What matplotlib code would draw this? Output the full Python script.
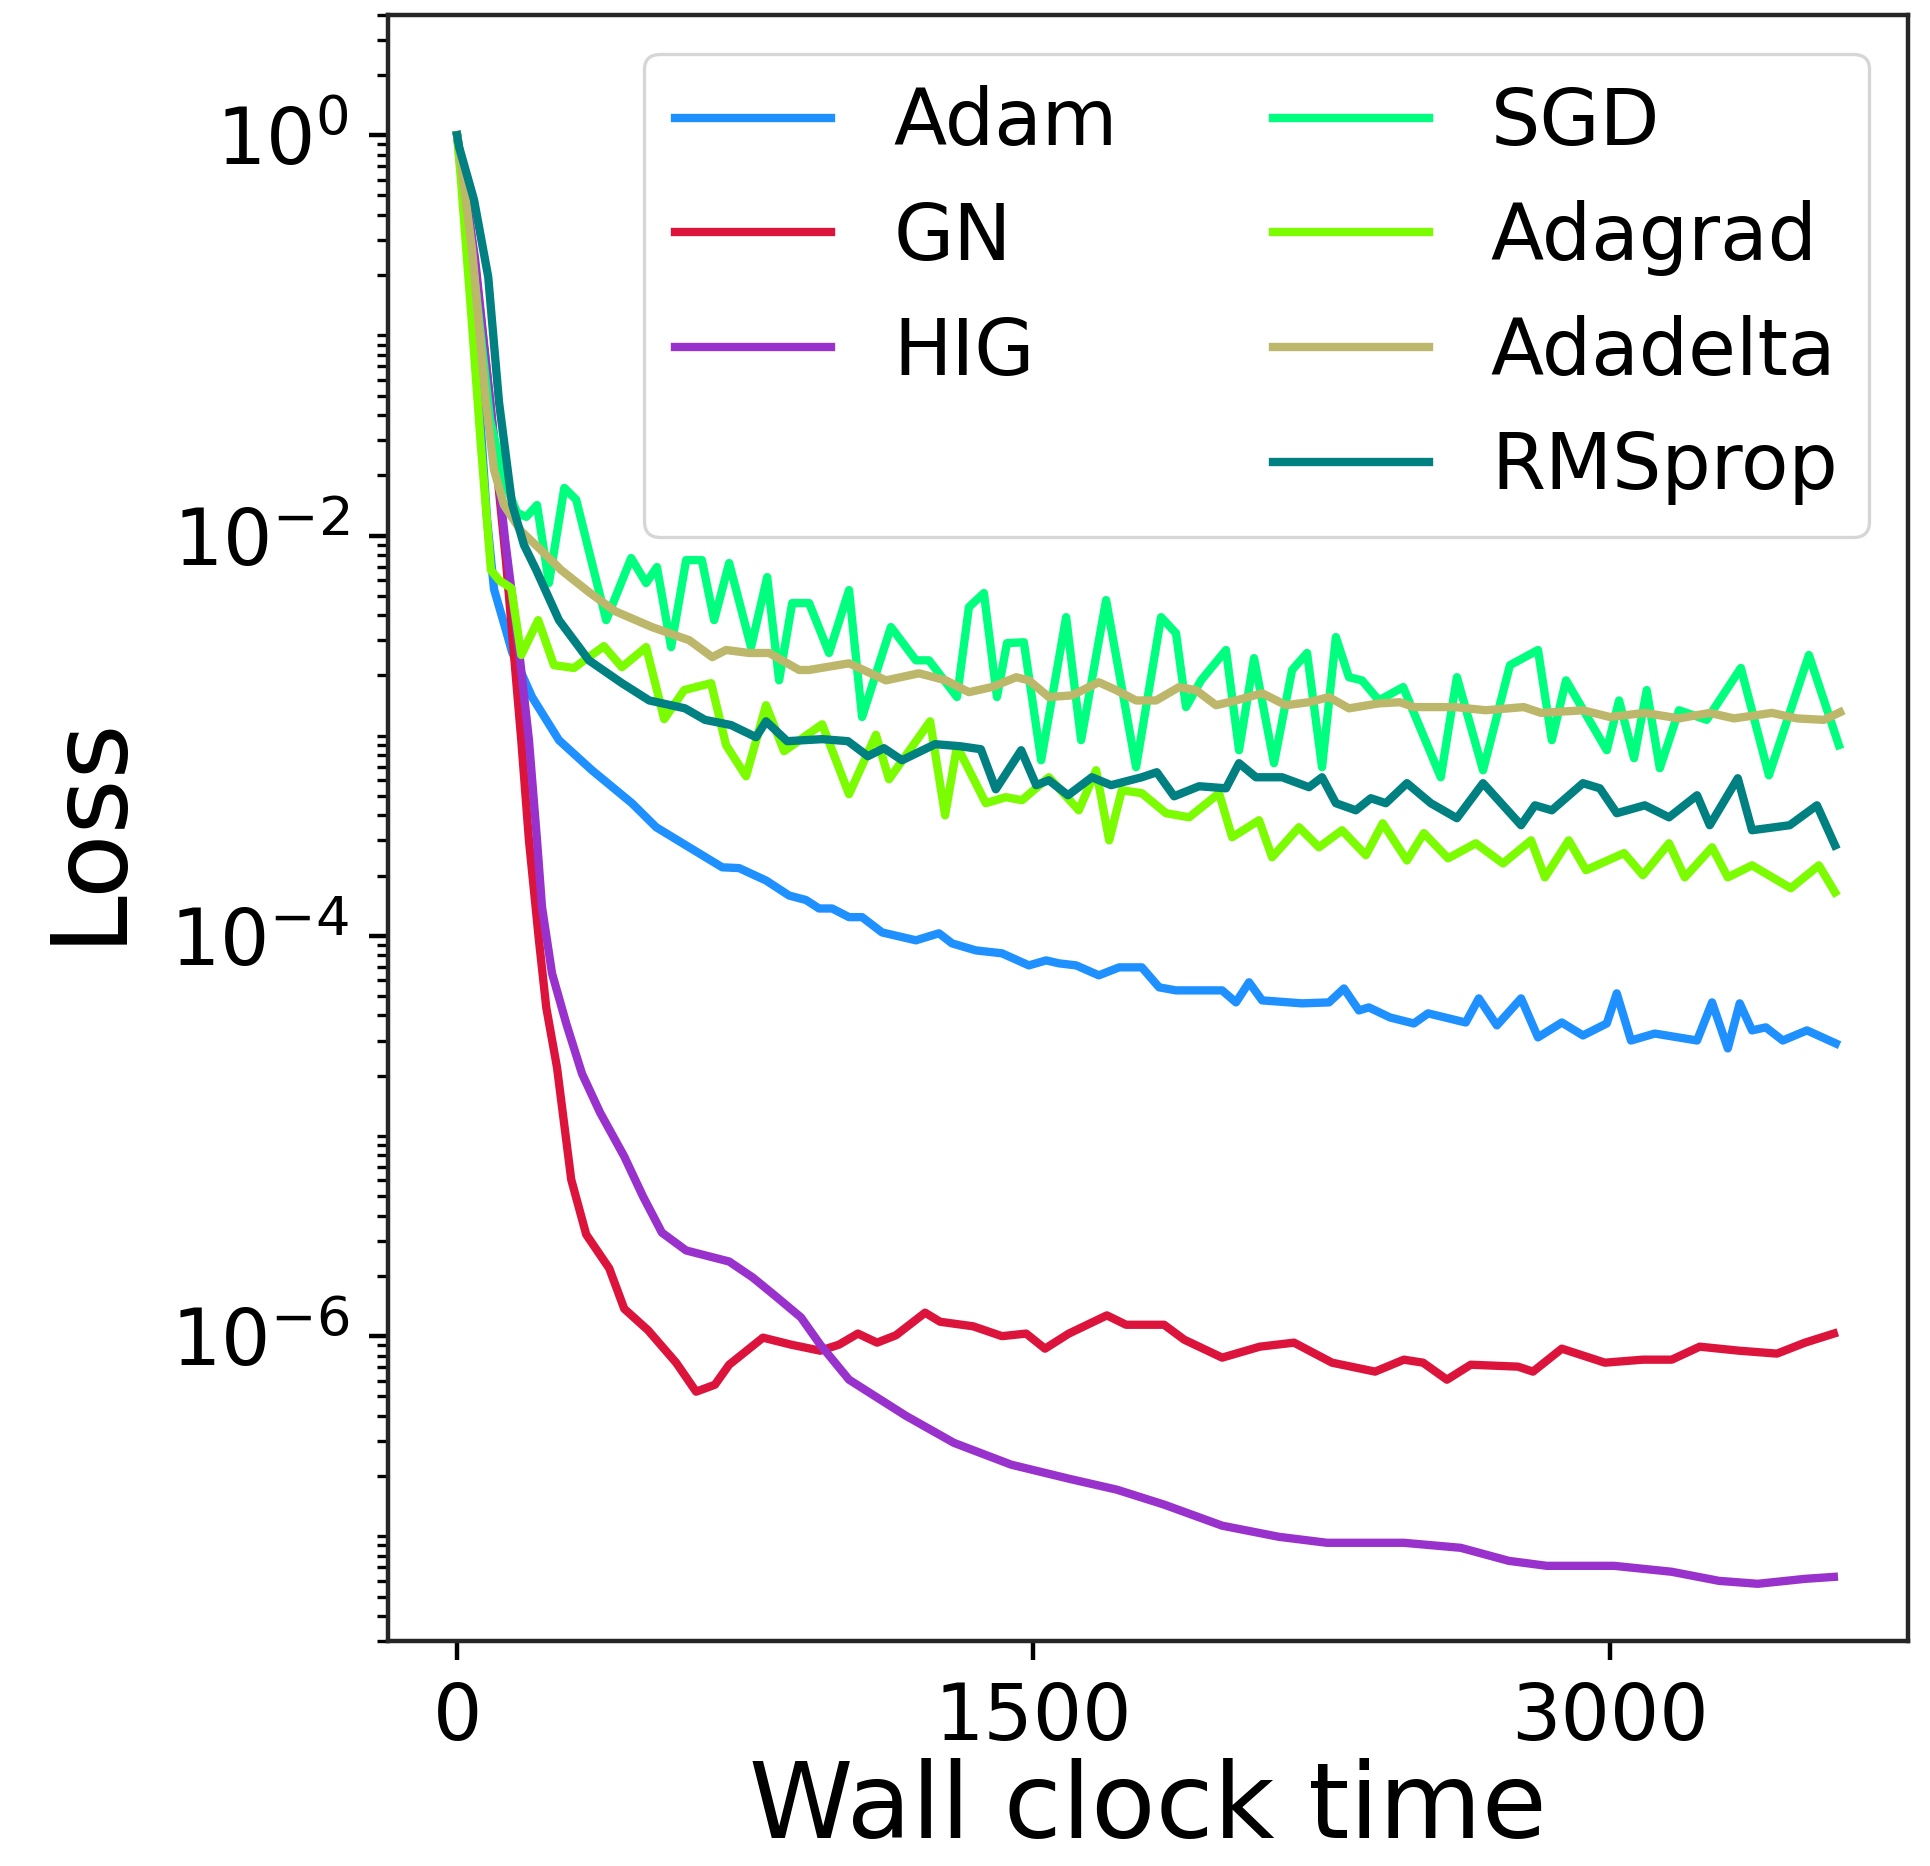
import numpy as np
import matplotlib
matplotlib.use("Agg")
import matplotlib.pyplot as plt
from matplotlib.ticker import LogLocator, NullFormatter


#%% loss curves vs wall clock time

t_adam = [0, 31, 57, 78, 96, 127, 143, 195, 265, 351, 455, 518, 604, 690, 734, 804, 864, 908, 942, 976,
          1020, 1054, 1106, 1194, 1254, 1288, 1350, 1418, 1488, 1533, 1566, 1611, 1670, 1723, 1782, 1827,
          1871, 1991, 2027, 2061, 2095, 2199, 2269, 2308, 2347, 2373, 2428, 2490, 2527, 2625, 2659, 2706,
          2769, 2813, 2875, 2930, 2992, 3018, 3055, 3117, 3227, 3266, 3307, 3338, 3370, 3406, 3450, 3513, 3588]
loss_adam = [1.0, 0.268, 0.0476, 0.012, 0.0054, 0.00337, 0.00262, 0.00156, 0.00095, 0.000672, 0.00046,
             0.000349, 0.000277, 0.00022, 0.000218, 0.000189, 0.000159, 0.000151, 0.000137, 0.000137,
             0.000124, 0.000124, 0.000104, 9.5e-5, 1.03e-4, 9.17e-5, 8.46e-5, 8.18e-5, 7.12e-5, 7.54e-5,
             7.29e-5, 7.12e-5, 6.35e-5, 6.96e-5, 6.96e-5, 5.53e-5, 5.34e-5, 5.34e-5, 4.65e-5, 5.86e-5,
             4.76e-5, 4.6e-5, 4.65e-5, 5.46e-5, 4.24e-5, 4.39e-5, 3.91e-5, 3.65e-5, 4.1e-5, 3.69e-5,
             4.87e-5, 3.57e-5, 4.87e-5, 3.11e-5, 3.69e-5, 3.18e-5, 3.65e-5, 5.16e-5, 3.0e-5, 3.25e-5,
             3.0e-5, 4.65e-5, 2.74e-5, 4.6e-5, 3.37e-5, 3.49e-5, 3.0e-5, 3.37e-5, 2.9e-5]

t_gn = [0, 44, 86, 127, 167, 187, 213, 232, 260, 297, 336, 396, 435, 497, 570, 622, 671, 708, 796, 869,
        945, 994, 1043, 1093, 1142, 1218, 1257, 1343, 1418, 1481, 1530, 1592, 1691, 1741, 1840, 1892,
        1991, 2089, 2178, 2277, 2389, 2464, 2514, 2576, 2638, 2761, 2800, 2875, 2987, 3086, 3161, 3234,
        3336, 3435, 3508, 3583]
loss_gn = [1.0, 0.253, 0.0465, 0.00754, 0.00095, 0.0003, 9.5e-5, 4.39e-5, 2.2e-5, 6.06e-6, 3.22e-6,
           2.18e-6, 1.37e-6, 1.07e-6, 7.37e-7, 5.28e-7, 5.72e-7, 7.2e-7, 9.83e-7, 9.07e-7, 8.46e-7,
           9.07e-7, 1.03e-6, 9.28e-7, 1.01e-6, 1.31e-6, 1.18e-6, 1.12e-6, 1.0e-6, 1.03e-6, 8.66e-7,
           1.03e-6, 1.27e-6, 1.14e-6, 1.14e-6, 9.61e-7, 7.81e-7, 8.86e-7, 9.28e-7, 7.37e-7, 6.65e-7,
           7.63e-7, 7.37e-7, 6.06e-7, 7.2e-7, 7.04e-7, 6.65e-7, 8.66e-7, 7.37e-7, 7.63e-7, 7.63e-7,
           8.86e-7, 8.46e-7, 8.18e-7, 9.28e-7, 1.03e-6]

t_hig = [0, 47, 86, 125, 161, 187, 208, 221, 247, 284, 325, 372, 435, 484, 533, 596, 708, 770, 833, 895,
         945, 1020, 1168, 1293, 1442, 1592, 1717, 1840, 1991, 2139, 2264, 2464, 2612, 2737, 2836, 3011,
         3161, 3284, 3385, 3508, 3583]
loss_hig = [1.0, 0.2385, 0.0465, 0.0095, 0.00268, 0.00095, 0.0003, 1.39e-4, 6.5e-5, 3.65e-5, 2.05e-5,
            1.31e-5, 7.9e-6, 4.98e-6, 3.29e-6, 2.68e-6, 2.36e-6, 1.96e-6, 1.56e-6, 1.24e-6, 9.07e-7,
            6.06e-7, 4.0e-7, 2.93e-7, 2.28e-7, 1.94e-7, 1.71e-7, 1.44e-7, 1.13e-7, 9.94e-8, 9.28e-8,
            9.28e-8, 8.76e-8, 7.54e-8, 7.12e-8, 7.12e-8, 6.65e-8, 5.99e-8, 5.79e-8, 6.13e-8, 6.27e-8]

t_sgd = [0, 31, 60, 86, 122, 156, 180, 208, 239, 279, 310, 349, 388, 453, 492, 520, 557, 596, 637, 669,
         708, 765, 807, 838, 872, 916, 968, 1020, 1054, 1129, 1194, 1228, 1301, 1332, 1371, 1405, 1431,
         1475, 1520, 1585, 1624, 1689, 1767, 1832, 1871, 1897, 1936, 2001, 2035, 2074, 2126, 2173, 2212,
         2251, 2287, 2321, 2355, 2399, 2462, 2560, 2602, 2670, 2740, 2813, 2849, 2886, 2992, 3024, 3063,
         3096, 3130, 3180, 3252, 3341, 3414, 3518, 3596]
loss_sgd = [1.0, 0.337, 0.107, 0.0378, 0.0189, 0.013, 0.0124, 0.0142, 0.00579, 0.0173, 0.0151, 0.00754,
            0.00378, 0.00772, 0.00579, 0.00696, 0.00277, 0.00754, 0.00754, 0.00378, 0.00729, 0.00277,
            0.0062, 0.00189, 0.0046, 0.0046, 0.00259, 0.00534, 0.00124, 0.00349, 0.00238, 0.00238,
            0.00156, 0.00439, 0.00516, 0.00156, 0.0029, 0.00293, 0.000754, 0.00391, 0.00095, 0.00476,
            0.000696, 0.00391, 0.00325, 0.00139, 0.00189, 0.00268, 0.000846, 0.00244, 0.000729, 0.00213,
            0.00259, 0.000696, 0.00311, 0.00196, 0.00189, 0.0015, 0.00175, 0.00062, 0.00196, 0.000672,
            0.00225, 0.00268, 0.00095, 0.00189, 0.000846, 0.0015, 0.000772, 0.00169, 0.000688, 0.00134,
            0.0012, 0.00218, 0.000634, 0.00253, 0.000897]

t_adagrad = [0, 10, 36, 62, 88, 109, 141, 167, 211, 252, 304, 382, 429, 492, 539, 591, 661, 700, 752,
             804, 851, 950, 1020, 1090, 1124, 1231, 1270, 1301, 1376, 1428, 1470, 1540, 1618, 1663, 1697,
             1730, 1782, 1845, 1905, 1983, 2017, 2087, 2121, 2191, 2243, 2303, 2365, 2409, 2472, 2516,
             2579, 2651, 2722, 2795, 2831, 2893, 2938, 3037, 3086, 3154, 3195, 3266, 3307, 3370, 3471,
             3544, 3586]
loss_adagrad = [1.0, 0.599, 0.134, 0.028, 0.00672, 0.00599, 0.00546, 0.00253, 0.00378, 0.00225, 0.00218,
                0.0028, 0.0022, 0.00277, 0.00121, 0.00169, 0.00183, 0.000897, 0.000627, 0.00142,
                0.000837, 0.00114, 0.00051, 0.00101, 0.000606, 0.00118, 0.0004, 0.000886, 0.00046,
                0.000493, 0.000476, 0.00062, 0.000424, 0.000672, 0.0003, 0.000534, 0.000516, 0.00041,
                0.000391, 0.000516, 0.000311, 0.000378, 0.000247, 0.000349, 0.000277, 0.000337, 0.000253,
                0.000365, 0.000238, 0.000326, 0.000244, 0.00029, 0.00023, 0.0003, 0.000196, 0.0003,
                0.000213, 0.000259, 0.000201, 0.00029, 0.000196, 0.000277, 0.000196, 0.000225, 0.000173,
                0.000225, 0.000165]

t_adadelta = [0, 5, 39, 75, 96, 122, 167, 213, 271, 343, 411, 507, 604, 664, 700, 760, 812, 890, 916,
              1020, 1116, 1202, 1272, 1332, 1392, 1455, 1488, 1540, 1600, 1670, 1715, 1767, 1819, 1879,
              1923, 1975, 2027, 2095, 2157, 2217, 2269, 2321, 2399, 2454, 2490, 2597, 2677, 2776, 2821,
              2930, 3000, 3091, 3180, 3260, 3323, 3422, 3487, 3557, 3599]
loss_adadelta = [1.0, 0.876, 0.268, 0.0465, 0.0213, 0.0142, 0.0105, 0.00866, 0.00672, 0.00522, 0.00419,
                 0.00349, 0.003, 0.00247, 0.00268, 0.00259, 0.00259, 0.00213, 0.00213, 0.0023, 0.00189,
                 0.00205, 0.00189, 0.00165, 0.00175, 0.00196, 0.00189, 0.00156, 0.00159, 0.00185,
                 0.00169, 0.0015, 0.0015, 0.00175, 0.00169, 0.00142, 0.0015, 0.00163, 0.00142, 0.00147,
                 0.00156, 0.00137, 0.00145, 0.00147, 0.00139, 0.00139, 0.00134, 0.00139, 0.0013, 0.00134,
                 0.00124, 0.0013, 0.00122, 0.0013, 0.00122, 0.0013, 0.00122, 0.0012, 0.00131]

t_rmsprop = [0, 5, 44, 81, 109, 143, 174, 206, 265, 343, 429, 500, 593, 645, 713, 778, 804, 859, 950,
             1017, 1069, 1111, 1158, 1244, 1309, 1363, 1402, 1468, 1507, 1540, 1590, 1652, 1702, 1782,
             1821, 1866, 1931, 2001, 2035, 2079, 2147, 2217, 2251, 2287, 2339, 2378, 2417, 2472, 2534,
             2602, 2670, 2769, 2805, 2849, 2930, 2974, 3018, 3091, 3154, 3227, 3260, 3333, 3370, 3468,
             3539, 3586]
loss_rmsprop = [1.0, 0.876, 0.476, 0.196, 0.0465, 0.0144, 0.00897, 0.00672, 0.00378, 0.00238, 0.00183,
                0.0015, 0.00137, 0.0012, 0.00113, 0.000983, 0.00118, 0.000939, 0.000961, 0.000939,
                0.00079, 0.000866, 0.000754, 0.000907, 0.000886, 0.000856, 0.00054, 0.000846, 0.000566,
                0.000599, 0.000504, 0.00062, 0.000566, 0.00062, 0.000657, 0.000498, 0.000559, 0.000546,
                0.000729, 0.00062, 0.00062, 0.000553, 0.00062, 0.00046, 0.000424, 0.000487, 0.00046,
                0.000579, 0.00046, 0.000387, 0.000579, 0.000357, 0.000449, 0.000424, 0.000579, 0.000546,
                0.00041, 0.000449, 0.000391, 0.000504, 0.000357, 0.000613, 0.000337, 0.000357, 0.000449,
                0.000283]

x_ticks = [0, 1500, 3000]
y_ticks = [1e-6, 1e-4, 1e-2, 1]


#%%

figure, ax1 = plt.subplots(figsize=(4.8275, 4.665), dpi=400)
figure.subplots_adjust(left=0.2009, right=0.9879, bottom=0.1206, top=0.9921)

l_adam, = ax1.plot(t_adam, loss_adam, color='dodgerblue', label='Adam')
l_gn, = ax1.plot(t_gn, loss_gn, color='crimson', label='GN')
l_hig, = ax1.plot(t_hig, loss_hig, color='darkorchid', label='HIG')
l_sgd, = ax1.plot(t_sgd, loss_sgd, color='springgreen', label='SGD')
l_adagrad, = ax1.plot(t_adagrad, loss_adagrad, color='lawngreen', label='Adagrad')
l_adadelta, = ax1.plot(t_adadelta, loss_adadelta, color='darkkhaki', label='Adadelta')
l_rmsprop, = ax1.plot(t_rmsprop, loss_rmsprop, color='teal', label='RMSprop')

ax1.set_yscale('log')
ax1.set_ylim(3e-8, 4)
ax1.set_xlim(-180, 3775)
ax1.set_xticks(x_ticks)
ax1.set_yticks(y_ticks)
ax1.yaxis.set_minor_locator(LogLocator(base=10, subs=np.arange(1, 10), numticks=50))
ax1.yaxis.set_minor_formatter(NullFormatter())
ax1.tick_params(labelsize=14)
for sp in ax1.spines.values():
    sp.set_color('0.15')

ax1.set_xlabel('Wall clock time', fontsize=19, labelpad=0.3)
ax1.set_ylabel('Loss', fontsize=19, labelpad=5.5)

# empty slot so the first column holds three entries
blank, = ax1.plot([], [], color='none', label=' ')
leg = ax1.legend(handles=[l_adam, l_gn, l_hig, blank, l_sgd, l_adagrad, l_adadelta, l_rmsprop],
                 ncol=2, loc='upper right', fontsize=14)
leg.get_frame().set_linewidth(0.6)

figure.savefig('out.png', dpi=400)
